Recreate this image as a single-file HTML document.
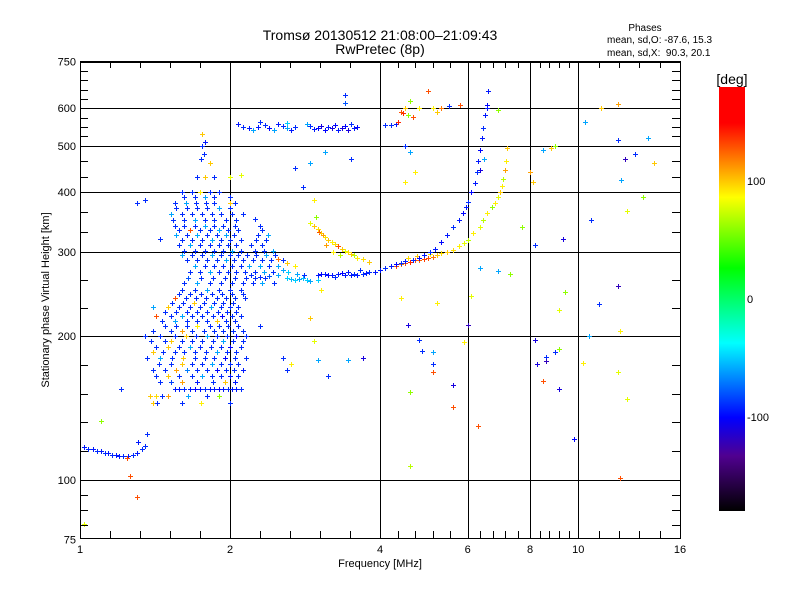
<!DOCTYPE html>
<html><head><meta charset="utf-8">
<style>
html,body{margin:0;padding:0;background:#fff;}
svg{display:block;font-family:"Liberation Sans",sans-serif;}
</style></head>
<body>
<svg id="chart" width="800" height="600" viewBox="0 0 800 600" xmlns="http://www.w3.org/2000/svg">
<defs>
<linearGradient id="cmap" x1="0" y1="0" x2="0" y2="1">
<stop offset="0" stop-color="#ff0000"/><stop offset="0.085" stop-color="#ff0000"/>
<stop offset="0.26" stop-color="#ffff00"/><stop offset="0.427" stop-color="#00ff00"/>
<stop offset="0.604" stop-color="#00ffff"/><stop offset="0.78" stop-color="#0000ff"/>
<stop offset="0.87" stop-color="#500090"/><stop offset="1" stop-color="#000000"/>
</linearGradient>
</defs>
<rect x="0" y="0" width="800" height="600" fill="#fff"/>
<text x="380" y="40" font-size="14" text-anchor="middle">Tromsø 20130512 21:08:00–21:09:43</text>
<text x="380" y="54" font-size="14" text-anchor="middle">RwPretec (8p)</text>
<text x="645" y="31" font-size="10" text-anchor="middle">Phases</text>
<text x="607" y="43" font-size="10">mean, sd,O: -87.6, 15.3</text>
<text x="607" y="56" font-size="10" xml:space="preserve">mean, sd,X:  90.3, 20.1</text>
<g id="grid"></g>
<g id="points"></g>
<g id="axes"></g>
<text x="380" y="567" font-size="11" text-anchor="middle">Frequency [MHz]</text>
<text transform="translate(49,300) rotate(-90)" font-size="11" text-anchor="middle">Stationary phase Virtual Height [km]</text>
<rect x="719" y="87" width="26" height="424" fill="url(#cmap)"/>
<text x="732" y="84" font-size="14" text-anchor="middle">[deg]</text>
<g id="cbar"></g>
</svg>
<script>
// ---- data ----
const xMajorTicks=[1,2,4,6,8,10,16];
const xTickLabels=["1","2","4","6","8","10","16"];
const yMajorTicks=[75,100,200,300,400,500,600,750];
const yTickLabels=["75","100","200","300","400","500","600","750"];
const xGrid=[2,4,6,8,10];
const yGrid=[100,200,300,400,500,600];
const cbarTicks=[100,0,-100];
const cbarLabels=["100","0","-100"];

const lowF=[1.02,1.04,1.06,1.08,1.10,1.12,1.14,1.16,1.18,1.20,1.22,1.25,1.28,1.30,1.33,1.35,1.31,1.24];
const lowH=[117,116,116,115,115,114,114,113,113,112,112,112,113,114,116,118,120,111];
const lowP=[-95,-90,-95,-90,-95,-90,-95,-90,-95,-95,-90,-95,-90,-95,-90,-95,-95,130];

const cloudHeights=[155,160,150,145,170,180,190,200,210,220,230,240,250,265,280,295,310,325,340,360,380,400,430,
 165,175,185,195,205,215,225,235,245,258,272,288,302,318,333,350,370,390];
const cloudFreqs=[
 [1.55,1.58,1.62,1.66,1.70,1.74,1.78,1.82,1.86,1.90,1.94,1.98,2.02,2.06,2.10],
 [1.45,1.52,1.60,1.72,1.85,1.95,2.05],
 [1.38,1.42,1.46,1.50,1.65,1.80,1.90],
 [1.40,1.43,1.60,1.75,2.00],
 [1.40,1.48,1.56,1.64,1.72,1.80,1.88,1.96,2.04,2.12],
 [1.36,1.45,1.53,1.61,1.70,1.78,1.86,1.95,2.05,2.15],
 [1.42,1.50,1.58,1.66,1.74,1.83,1.92,2.00,2.10],
 [1.35,1.45,1.55,1.63,1.71,1.80,1.88,1.97,2.06,2.15],
 [1.48,1.56,1.64,1.72,1.82,1.90,1.98,2.08],
 [1.42,1.52,1.60,1.68,1.76,1.85,1.93,2.02,2.10],
 [1.50,1.58,1.66,1.74,1.83,1.92,2.00,2.08],
 [1.55,1.63,1.71,1.79,1.88,1.96,2.05,2.14],
 [1.60,1.70,1.80,1.90,2.00,2.10],
 [1.65,1.75,1.85,1.95,2.05,2.15,2.25,2.35],
 [1.70,1.78,1.86,1.94,2.02,2.10,2.18,2.30,2.40,2.50],
 [1.60,1.68,1.76,1.84,1.92,2.00,2.08,2.16,2.26,2.36,2.46],
 [1.58,1.66,1.74,1.82,1.90,1.98,2.06,2.20,2.32],
 [1.56,1.64,1.72,1.80,1.88,1.96,2.04,2.28,2.38],
 [1.55,1.62,1.70,1.78,1.86,1.94,2.05,2.30],
 [1.52,1.60,1.68,1.76,1.84,1.92,2.02,2.12],
 [1.55,1.63,1.71,1.79,1.86,2.05],
 [1.60,1.68,1.74,1.82,1.90],
 [1.72,1.78,1.86,2.00],
 [1.42,1.50,1.58,1.68,1.76,1.84,1.92,2.00,2.08],
 [1.44,1.52,1.60,1.68,1.76,1.84,1.92,2.00,2.08],
 [1.40,1.47,1.55,1.62,1.70,1.79,1.88,1.97,2.06],
 [1.39,1.48,1.52,1.60,1.68,1.76,1.85,1.94,2.03,2.12],
 [1.40,1.52,1.60,1.68,1.77,1.86,1.94,2.03,2.12],
 [1.46,1.55,1.64,1.72,1.80,1.88,1.96,2.05],
 [1.48,1.56,1.64,1.72,1.80,1.89,1.97,2.06],
 [1.53,1.61,1.69,1.77,1.86,1.94,2.03],
 [1.58,1.66,1.75,1.84,1.93,2.02,2.12],
 [1.62,1.72,1.82,1.92,2.02,2.12,2.22,2.32,2.45],
 [1.66,1.74,1.82,1.90,1.98,2.06,2.14,2.24,2.34,2.44],
 [1.64,1.72,1.80,1.88,1.96,2.04,2.12,2.22,2.32,2.42,2.55],
 [1.62,1.70,1.78,1.86,1.94,2.02,2.10,2.24,2.34,2.44],
 [1.60,1.68,1.76,1.84,1.92,2.00,2.10,2.26,2.36],
 [1.58,1.66,1.74,1.82,1.90,1.98,2.08,2.32],
 [1.54,1.62,1.70,1.78,1.86,1.96,2.06],
 [1.56,1.64,1.72,1.80,1.90,2.00],
 [1.62,1.70,1.78,1.86,2.00]];
const cloudPhases=[
 [-95,-95,-90,-95,-100,-95,-90,-95,-95,-100,-95,-90,-95,-95,-90],
 [-90,-85,110,-95,-90,100,-95],
 [100,95,-90,110,-60,-90,60],
 [100,-90,-90,90,-90],
 [-90,-90,110,-70,-90,-90,-100,-90,-90,-95],
 [-90,-60,-90,100,-90,-90,-90,-100,-90,-90],
 [-90,100,-90,-60,-90,-90,-90,-100,-90],
 [-90,-90,-90,100,-90,-60,-90,-90,-100,-90],
 [-90,-90,-90,90,-90,-90,-90,-90],
 [130,-90,-60,-90,-90,-90,-100,-90,-90],
 [100,-90,-90,-90,-60,-90,-90,-90],
 [130,-90,-90,-90,-90,-90,-90,-90],
 [-90,-90,-60,-90,-90,-90],
 [-80,-90,-90,-90,-90,-90,-90,-90],
 [-60,-90,-90,-90,-90,-90,-60,-60,-90,-60],
 [-60,-90,-90,-60,-90,-90,-90,-90,-90,-60,-90],
 [-90,-60,-90,-90,-90,-90,-90,-90,-90],
 [-60,-90,-60,-90,-90,-60,-90,-90,-60],
 [-90,-90,-90,-60,-90,-90,-90,-90],
 [-60,-90,-90,-90,-90,-90,-90,-90],
 [-90,-60,-90,-90,-90,-90],
 [-90,-90,90,-90,-90],
 [-90,100,-90,80],
 [-90,100,-90,-90,-60,-90,-90,-95,-90],
 [-90,-90,100,-90,-90,-60,-90,-90,-90],
 [100,-90,-90,-90,-90,-90,-60,-90,-90],
 [-90,-90,100,-90,-90,-90,-90,-60,-90,-90],
 [-90,-90,110,-90,-90,-90,-90,-90,-90],
 [-90,-60,-90,-90,-90,100,-90,-90],
 [-90,-90,-90,-90,-90,-90,-90,-90],
 [-90,-90,100,-90,-90,-90,-90],
 [-90,-90,-90,-90,-90,-90,-90],
 [-90,-60,-90,-90,-90,-90,-90,-60,-90],
 [-90,-90,-60,-90,-90,-90,-90,-90,-60,-90],
 [-90,-90,-90,-90,-60,-90,-90,-90,-90,-90,-90],
 [-90,-90,-90,-90,-90,-60,-90,-90,-90,-60],
 [-90,-90,-90,-60,-90,-90,-90,-90,-90],
 [-90,130,-90,-90,-60,-90,-90,-90],
 [-90,-90,-60,-90,-90,-90,-90],
 [-90,-90,-90,-90,-60,-90],
 [-90,-90,-60,-90,-90]];
const spikeF=[1.75,1.77,1.82,1.76,1.78,1.76];
const spikeH=[470,480,460,500,510,530];
const spikeP=[-90,-90,100,-90,-95,100];

const eTraceF=[2.2,2.3,2.4,2.5,2.6,2.65,2.7,2.75,2.8,2.85,2.9,3.0,3.05,3.1,3.15,3.2,3.3,3.35,3.4,3.5,3.55,3.6,3.7,3.75,3.8,3.9,2.55,2.62,2.72,2.82,3.25,3.45,3.65];
const eTraceH=[268,266,267,268,265,263,262,263,264,262,261,268,270,270,269,268,270,271,269,268,270,269,270,271,272,273,275,272,270,268,266,272,275];
const eTraceP=[-90,-90,-80,-60,-50,-55,-50,-60,-55,-50,-60,-95,-100,-95,-100,-95,-95,-100,-95,-95,-90,-95,-90,-95,-90,-95,-60,-50,-60,-90,-90,-95,-90];

const oTraceF=[4.0,4.1,4.2,4.3,4.4,4.5,4.65,4.8,4.9,5.04,5.15,5.3,5.45,5.6,5.75,5.87,5.95,6.0,6.1,6.2,6.25,6.3,6.35,6.4,6.45,6.5,6.55,6.6,6.55,6.48];
const oTraceH=[275,277,281,283,285,287,288,292,295,300,305,315,325,338,350,362,372,381,400,418,440,466,490,520,546,580,610,650,600,470];
const oTraceP=[-95,-90,-95,-100,-90,-95,-90,-100,-95,-90,-95,-100,-95,-90,-95,-100,-95,-90,-100,-95,-90,-95,-100,-95,-90,-95,-100,-95,-95,-60];

const xTraceF=[4.3,4.4,4.5,4.6,4.7,4.8,4.9,5.0,5.1,5.2,5.3,5.45,5.6,5.75,5.9,6.0,6.15,6.35,6.45,6.55,6.7,6.8,6.9,6.96,7.02,7.07,7.12,7.15,7.2,4.55,4.75,5.05];
const xTraceH=[280,283,285,286,288,289,290,291,293,295,298,300,303,308,313,318,328,338,350,362,372,380,390,400,412,427,445,466,495,292,294,297];
const xTraceP=[130,120,130,140,130,125,135,130,120,100,95,100,95,90,80,70,90,80,70,90,60,90,80,100,90,70,110,90,100,95,100,90];

const xLowF=[2.95,3.0,3.02,3.05,3.08,3.1,3.15,3.2,3.25,3.3,3.35,3.4,3.45,3.5,3.55,3.6,3.7,3.8,3.12,3.22,3.32,2.9,2.98];
const xLowH=[340,335,330,328,325,322,318,315,312,308,305,302,300,297,295,292,290,286,310,300,295,345,355];
const xLowP=[100,95,130,100,110,95,100,90,95,130,100,80,95,100,70,90,95,100,110,90,70,80,60];

const bandF=[2.08,2.12,2.18,2.22,2.28,2.35,2.4,2.45,2.5,2.55,2.6,2.65,2.7,2.85,2.9,2.95,3.0,3.05,3.1,3.15,3.2,3.25,3.3,3.35,3.4,3.5,3.55,3.6,2.3,2.6,3.45];
const bandH=[555,548,545,540,548,552,545,540,555,550,545,540,548,555,550,542,545,550,540,548,545,552,540,545,550,555,545,548,560,558,540];
const bandP=[-95,-90,-95,-60,-95,-90,-100,-60,-95,-90,-60,-95,-90,-60,-90,-95,-100,-110,-100,-95,-110,-100,-95,-110,-100,-90,-95,-100,-90,-50,-110];

const scatF=[1.26,1.30,1.02,1.10,1.35,1.36,1.21,1.35,1.45,1.40,
 2.0,2.1,2.25,2.6,2.55,2.3,2.9,2.95,3.05,3.0,
 2.65,3.0,3.7,3.15,3.45,4.4,4.55,4.6,4.6,4.8,
 4.85,5.1,5.1,5.1,5.2,5.6,5.6,6.3,6.0,5.9,
 6.1,6.35,6.9,7.3,8.2,8.25,8.6,8.6,8.5,9.15,
 9.15,9.15,9.0,8.2,9.4,10.5,10.2,11.0,12.0,12.1,
 12.1,12.5,9.8,7.7,6.35,8.5,8.8,9.0,8.0,8.1,
 9.3,10.6,11.1,10.3,12.0,12.4,12.2,12.5,12.0,13.5,
 14.2,13.8,13.0,12.0,3.4,3.4,2.9,3.5,3.1,2.7,
 2.95,2.8,1.3,4.1,4.2,4.3,4.35,4.45,4.4,4.5,
 4.6,4.8,5.0,5.3,4.55,4.65,5.5,5.1,5.2,4.5,
 4.6,4.7,4.5,6.9,5.8,2.6,2.7,2.5];
const scatH=[102,92,81,133,118,125,155,385,320,230,
 380,435,352,170,180,210,218,195,250,262,
 175,178,180,165,178,240,211,153,107,196,
 186,185,175,168,235,158,142,130,211,194,
 243,277,274,270,196,175,181,177,161,155,
 188,227,185,310,247,200,176,233,168,205,
 101,148,122,338,445,490,495,500,440,420,
 320,350,600,560,515,470,425,366,255,390,
 460,520,480,612,640,615,460,470,485,450,
 385,410,380,552,552,555,560,585,590,600,
 620,600,650,600,580,575,605,600,590,500,
 486,440,420,595,610,285,280,290];
const scatP=[130,130,80,60,-90,-90,-90,-90,-90,-60,
 100,80,-90,-90,-90,-90,100,80,90,-50,
 90,-60,-110,-90,-60,90,-110,60,70,-90,
 -90,-60,-90,130,90,-110,130,130,-120,90,
 80,-60,-60,60,-110,-110,-90,-120,130,-110,
 60,80,-90,-90,60,-60,90,-90,80,90,
 130,80,-100,60,-110,-60,100,60,110,100,
 -110,-90,100,-60,-90,-120,-60,80,-120,60,
 100,-60,-90,110,-90,-80,-60,-90,-60,-90,
 90,-90,-90,-90,-90,-95,140,140,130,100,
 60,90,130,120,60,130,-90,90,100,-90,
 -60,90,90,60,130,100,90,120];

// ---- scales ----
const X0=80,X1=680,Y0=61,Y1=538;
function xS(f){return 80+150*Math.log2(f);}
function yS(h){return 480-478*Math.log10(h/100);}
const cstops=[[0,[255,0,0]],[0.085,[255,0,0]],[0.26,[255,255,0]],[0.427,[0,255,0]],[0.604,[0,255,255]],[0.78,[0,0,255]],[0.87,[80,0,144]],[1,[0,0,0]]];
function phaseColor(p){
  const t=Math.max(0,Math.min(1,(180-p)/360));
  for(let i=1;i<cstops.length;i++){
    if(t<=cstops[i][0]){
      const a=cstops[i-1],b=cstops[i];const u=(t-a[0])/((b[0]-a[0])||1);
      const c=a[1].map((v,k)=>Math.round(v+(b[1][k]-v)*u));
      return `rgb(${c[0]},${c[1]},${c[2]})`;
    }
  }
  return "#000";
}
const NS="http://www.w3.org/2000/svg";
function mk(tag,attrs,parent){const e=document.createElementNS(NS,tag);for(const k in attrs)e.setAttribute(k,attrs[k]);parent.appendChild(e);return e;}

// ---- grid ----
const gridG=document.getElementById('grid');
xGrid.forEach(f=>{const x=Math.round(xS(f))+0.5;
  const l=mk('line',{x1:x,x2:x,y1:Y0,y2:Y1,stroke:'#000','stroke-width':1},gridG);
  
  });
yGrid.forEach(h=>{const y=Math.round(yS(h))+0.5;
  const l=mk('line',{x1:X0,x2:X1,y1:y,y2:y,stroke:'#000','stroke-width':1},gridG);
  
  });

// ---- points ----
const ptsG=document.getElementById('points');
function plot(F,H,P,name){
  for(let i=0;i<F.length;i++){
    const x=Math.round(xS(F[i])),y=Math.round(yS(H[i]));
    if(x<X0||x>X1||y<Y0||y>Y1)continue;
    const p=mk('path',{d:`M${x-2},${y}h5v1h-5zM${x},${y-2}h1v5h-1z`,fill:phaseColor(P[i])},ptsG);
    
    
  }
}
plot(lowF,lowH,lowP,'low-trace-point');
cloudHeights.forEach((h,r)=>{plot(cloudFreqs[r],cloudFreqs[r].map(()=>h),cloudPhases[r],'spread-f-point');});
plot(spikeF,spikeH,spikeP,'spread-f-point');
plot(bandF,bandH,bandP,'upper-band-point');
plot(eTraceF,eTraceH,eTraceP,'e-trace-point');
plot(xLowF,xLowH,xLowP,'x-mode-point');
plot(xTraceF,xTraceH,xTraceP,'x-trace-point');
plot(oTraceF,oTraceH,oTraceP,'o-trace-point');
plot(scatF,scatH,scatP,'scatter-point');

// ---- axes ----
const axG=document.getElementById('axes');
const frame=mk('rect',{x:X0+0.5,y:Y0+0.5,width:X1-X0,height:Y1-Y0,fill:'none',stroke:'#000','stroke-width':1},axG);


const topAxis=mk('line',{x1:X0,x2:X1+1,y1:Y0+1,y2:Y0+1,stroke:'#000','stroke-width':2},axG);


for(let i=0;i<xMajorTicks.length;i++){
  const x=xS(xMajorTicks[i]);
  const t=mk('text',{x:x,y:553,'font-size':11,'text-anchor':'middle'},axG);t.textContent=xTickLabels[i];
  
  
  if(i<xMajorTicks.length-1){
    const x2=xS(xMajorTicks[i+1]);
    for(let k=1;k<5;k++){const xx=Math.round(x+(x2-x)*k/5)+0.5;
      const m=mk('path',{d:`M${xx},${Y1}v-7M${xx},${Y0}v7`,stroke:'#000','stroke-width':1},axG);
      
      }
  }
}
const yMinorCounts=[3,4,2,2,2,3,4];
for(let i=0;i<yMajorTicks.length;i++){
  const y=yS(yMajorTicks[i]);
  const t=mk('text',{x:76,y:y+4,'font-size':11,'text-anchor':'end'},axG);t.textContent=yTickLabels[i];
  
  
  if(i<yMajorTicks.length-1){
    const y2=yS(yMajorTicks[i+1]),n=yMinorCounts[i];
    for(let k=1;k<=n;k++){const yy=Math.round(y+(y2-y)*k/(n+1))+0.5;
      const m=mk('path',{d:`M${X0},${yy}h8M${X1},${yy}h-8`,stroke:'#000','stroke-width':1},axG);
      
      }
  }
}
const cbG=document.getElementById('cbar');
cbarTicks.forEach((v,i)=>{const y=87+(180-v)/360*424;
  const t=mk('text',{x:747,y:y+4,'font-size':11},cbG);t.textContent=cbarLabels[i];
  
  });
</script>
</body></html>
